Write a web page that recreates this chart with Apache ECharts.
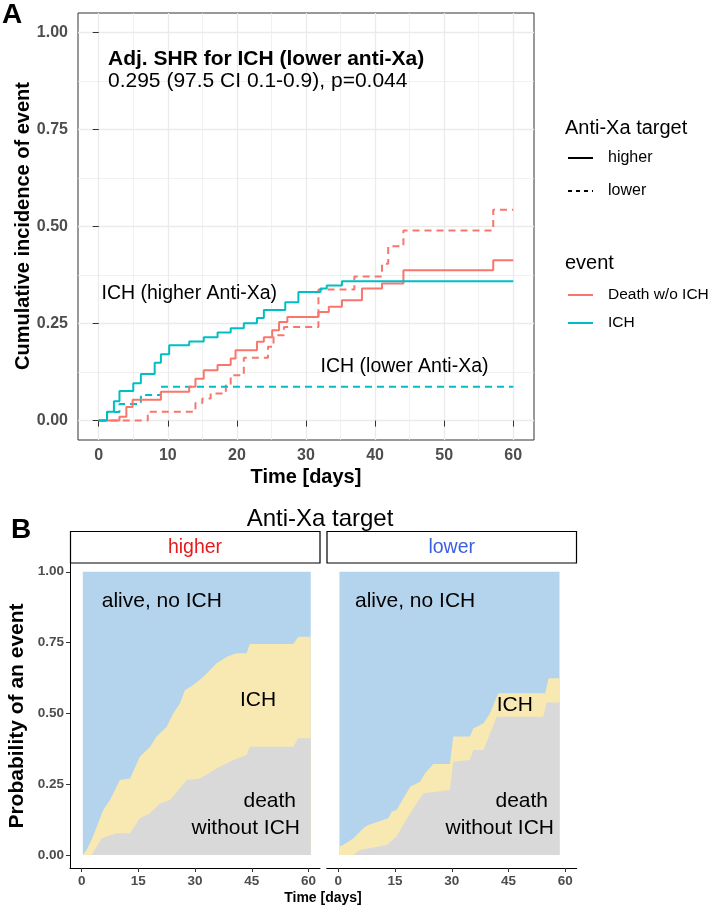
<!DOCTYPE html>
<html><head><meta charset="utf-8">
<script src="https://cdn.jsdelivr.net/npm/echarts@6/dist/echarts.min.js"></script>
<style>html,body{margin:0;padding:0;background:#fff}#c{width:708px;height:908px}</style>
</head><body><div id="c"></div>
<script>
// ---------- Panel A: cumulative incidence (step curves) ----------
const ichHigherT   = [0, 1.2, 2.2, 3, 5, 6.1, 8.1, 9, 10.2, 13.1, 15.2, 17.2, 19.1, 21, 22.9, 23.9, 27, 28.9, 32.1, 33, 35.2, 60];
const ichHigherV   = [0, 0.023, 0.05, 0.076, 0.096, 0.12, 0.149, 0.171, 0.194, 0.204, 0.215, 0.227, 0.238, 0.251, 0.264, 0.285, 0.305, 0.331, 0.34, 0.348, 0.359, 0.359];
const ichLowerT    = [0, 1.2, 3, 6.1, 9, 60];
const ichLowerV    = [0, 0.022, 0.043, 0.066, 0.087, 0.087];
const deathHigherT = [0, 3, 4, 4.9, 9, 13.1, 14, 15.2, 17.2, 19.1, 19.8, 22.9, 23.9, 25.1, 26.1, 27.3, 31.8, 33.3, 35.2, 38.1, 41, 44.1, 57.1, 60];
const deathHigherV = [0, 0.01, 0.035, 0.054, 0.074, 0.087, 0.108, 0.13, 0.143, 0.16, 0.181, 0.203, 0.215, 0.233, 0.254, 0.267, 0.28, 0.293, 0.31, 0.34, 0.353, 0.387, 0.413, 0.413];
const deathLowerT  = [0, 7.1, 14, 15, 16.2, 18.4, 19.1, 21, 24.5, 25.3, 26.8, 31.8, 37, 41, 41.9, 44.1, 57.1, 60];
const deathLowerV  = [0, 0.023, 0.045, 0.057, 0.07, 0.091, 0.117, 0.162, 0.19, 0.22, 0.241, 0.338, 0.371, 0.404, 0.449, 0.49, 0.543, 0.543];
const xTicksA = [0, 10, 20, 30, 40, 50, 60];
const xMinorA = [5, 15, 25, 35, 45, 55];
const yTicks  = [0, 0.25, 0.5, 0.75, 1];
const yMinorA = [0.125, 0.375, 0.625, 0.875];

// ---------- Panel B: stacked state probabilities (boundaries) ----------
const hiAliveT = [0.3, 60.6];
const hiAliveV = [1, 1];
const hiIchTopT = [0.3, 1.3, 2.6, 4, 5.7, 7.5, 10.1, 12.8, 15.4, 18.1, 19.8, 22.5, 24.2, 26, 27.3, 29.5, 32.2, 35.7, 38.4, 41, 43.6, 44.5, 56, 57.3, 60.6];
const hiIchTopV = [0, 0.018, 0.053, 0.1, 0.159, 0.194, 0.265, 0.27, 0.347, 0.382, 0.418, 0.453, 0.5, 0.535, 0.582, 0.6, 0.629, 0.677, 0.7, 0.712, 0.712, 0.745, 0.745, 0.771, 0.771];
const hiDeathT = [0.3, 2.6, 4, 5.3, 9.3, 12.8, 15.4, 18.1, 20.7, 23.4, 27.8, 31.3, 36.6, 40.1, 43.6, 44.5, 56, 57.3, 60.6];
const hiDeathV = [0, 0, 0.03, 0.059, 0.077, 0.077, 0.13, 0.147, 0.182, 0.194, 0.265, 0.27, 0.312, 0.335, 0.353, 0.382, 0.382, 0.412, 0.412];
const loAliveT = [0.3, 58.5];
const loAliveV = [1, 1];
const loIchTopT = [0.3, 1.3, 4, 6.6, 7.9, 13.2, 14.1, 15.4, 19, 21.6, 22.9, 25.1, 29.5, 30.4, 34.8, 35.7, 38.4, 40.1, 42.3, 54.7, 55.6, 58.5];
const loIchTopV = [0.03, 0.035, 0.059, 0.094, 0.106, 0.13, 0.153, 0.159, 0.241, 0.259, 0.288, 0.321, 0.321, 0.418, 0.418, 0.447, 0.465, 0.5, 0.571, 0.571, 0.624, 0.624];
const loDeathT = [0.3, 4, 5.7, 12.8, 15.4, 19, 22.5, 29.5, 30.4, 34.8, 35.7, 38.4, 41.9, 54.2, 55.1, 58.5];
const loDeathV = [0, 0, 0.018, 0.035, 0.065, 0.147, 0.218, 0.229, 0.329, 0.335, 0.371, 0.371, 0.488, 0.488, 0.538, 0.538];
const xTicksB = [0, 15, 30, 45, 60];

const FF = '"Liberation Sans", Arial, Helvetica, sans-serif';
const RED = '#F8766D', TEAL = '#00BFC4';
const BLUE = '#B3D4EC', YELLOW = '#F8E8B2', GRAY = '#D9D9D9';
const zip = (t, v) => t.map((x, i) => [x, v[i]]);

const chart = echarts.init(document.getElementById('c'), null, {renderer: 'canvas', width: 708, height: 908});

function stepSeries(t, v, color, dashed) {
  return {type: 'line', xAxisIndex: 0, yAxisIndex: 0, step: 'end', data: zip(t, v), symbol: 'none',
    lineStyle: {color: color, width: 2, type: dashed ? [7, 5] : 'solid'}, silent: true, animation: false, z: 5};
}
function areaSeries(idx, t, v, color, z) {
  return {type: 'line', xAxisIndex: idx, yAxisIndex: idx, data: zip(t, v), symbol: 'none',
    lineStyle: {width: 0, color: color}, areaStyle: {color: color, opacity: 1, origin: 'auto'},
    silent: true, animation: false, z: z};
}
const tickLbl = (sz) => ({color: '#4D4D4D', fontWeight: 'bold', fontSize: sz, fontFamily: FF});

const option = {
  backgroundColor: '#fff',
  animation: false,
  grid: [
    {left: 78, top: 13, width: 456, height: 427, show: true, borderColor: '#333', borderWidth: 1, backgroundColor: '#fff', containLabel: false},
    {left: 70, top: 563, width: 250, height: 305, containLabel: false},
    {left: 326.7, top: 563, width: 250, height: 305, containLabel: false}
  ],
  xAxis: [
    {gridIndex: 0, type: 'value', min: -3, max: 63, axisLine: {show: false},
     axisTick: {show: true, customValues: xTicksA, length: 6, lineStyle: {color: '#333'}},
     axisLabel: Object.assign({customValues: xTicksA, margin: 8}, tickLbl(16)),
     splitLine: {show: true, lineStyle: {color: '#EBEBEB', width: 1.3}}},
    {gridIndex: 1, type: 'value', min: -3.08, max: 63.05,
     axisLine: {show: true, onZero: false, lineStyle: {color: '#000', width: 1}},
     axisTick: {show: true, customValues: xTicksB, length: 4, lineStyle: {color: '#333'}},
     axisLabel: Object.assign({customValues: xTicksB, margin: 6}, tickLbl(13.5)),
     splitLine: {show: false}},
    {gridIndex: 2, type: 'value', min: -3.08, max: 63.05,
     axisLine: {show: true, onZero: false, lineStyle: {color: '#000', width: 1}},
     axisTick: {show: true, customValues: xTicksB, length: 4, lineStyle: {color: '#333'}},
     axisLabel: Object.assign({customValues: xTicksB, margin: 6}, tickLbl(13.5)),
     splitLine: {show: false}},
    {gridIndex: 0, type: 'value', min: -3, max: 63, axisLine: {show: false},
     axisTick: {show: false, customValues: xMinorA}, axisLabel: {show: false, customValues: xMinorA},
     splitLine: {show: true, lineStyle: {color: '#EBEBEB', width: 0.7}}}
  ],
  yAxis: [
    {gridIndex: 0, type: 'value', min: -0.05, max: 1.05, axisLine: {show: false},
     axisTick: {show: true, customValues: yTicks, length: 6, lineStyle: {color: '#333'}},
     axisLabel: Object.assign({customValues: yTicks, margin: 10, formatter: v => v.toFixed(2)}, tickLbl(16)),
     splitLine: {show: true, lineStyle: {color: '#EBEBEB', width: 1.3}}},
    {gridIndex: 1, type: 'value', min: -0.046, max: 1.031,
     axisLine: {show: true, onZero: false, lineStyle: {color: '#000', width: 1}},
     axisTick: {show: true, customValues: yTicks, length: 4, lineStyle: {color: '#333'}},
     axisLabel: Object.assign({customValues: yTicks, margin: 6, formatter: v => v.toFixed(2)}, tickLbl(13.5)),
     splitLine: {show: false}},
    {gridIndex: 2, type: 'value', min: -0.046, max: 1.031,
     axisLine: {show: false}, axisTick: {show: false, customValues: yTicks},
     axisLabel: {show: false, customValues: yTicks}, splitLine: {show: false}},
    {gridIndex: 0, type: 'value', min: -0.05, max: 1.05, axisLine: {show: false},
     axisTick: {show: false, customValues: yMinorA}, axisLabel: {show: false, customValues: yMinorA},
     splitLine: {show: true, lineStyle: {color: '#EBEBEB', width: 0.7}}}
  ],
  series: [
    stepSeries(deathLowerT, deathLowerV, RED, true),
    stepSeries(ichLowerT, ichLowerV, TEAL, true),
    stepSeries(deathHigherT, deathHigherV, RED, false),
    stepSeries(ichHigherT, ichHigherV, TEAL, false),
    areaSeries(1, hiAliveT, hiAliveV, BLUE, 2),
    areaSeries(1, hiIchTopT, hiIchTopV, YELLOW, 3),
    areaSeries(1, hiDeathT, hiDeathV, GRAY, 4),
    areaSeries(2, loAliveT, loAliveV, BLUE, 2),
    areaSeries(2, loIchTopT, loIchTopV, YELLOW, 3),
    areaSeries(2, loDeathT, loDeathV, GRAY, 4)
  ]
};

function txt(x, y, text, size, opts) {
  opts = opts || {};
  return {type: 'text', x: x, y: y, rotation: opts.rot || 0, z: 100,
    style: {text: text, fontSize: size, fontFamily: FF, fontWeight: opts.bold ? 'bold' : 'normal',
      fill: opts.fill || '#000', align: opts.align || 'left', verticalAlign: opts.va || 'middle'}};
}
function keyLine(x1, x2, y, color, dashed) {
  return {type: 'line', z: 100, shape: {x1: x1, y1: y, x2: x2, y2: y},
    style: {stroke: color, lineWidth: 2, lineDash: dashed ? [4, 4] : null}};
}

option.graphic = [
  txt(12, 15, 'A', 28, {bold: true, align: 'center'}),
  txt(108, 59, 'Adj. SHR for ICH (lower anti-Xa)', 21, {bold: true}),
  txt(108, 81, '0.295 (97.5 CI 0.1-0.9), p=0.044', 21),
  txt(101.5, 294, 'ICH (higher Anti-Xa)', 19.5),
  txt(488.5, 367, 'ICH (lower Anti-Xa)', 19.5, {align: 'right'}),
  txt(23, 226, 'Cumulative incidence of event', 20, {bold: true, align: 'center', rot: Math.PI / 2}),
  txt(306, 477, 'Time [days]', 20, {bold: true, align: 'center'}),
  // legend
  txt(565, 128, 'Anti-Xa target', 20),
  keyLine(568, 593, 158, '#000', false),
  txt(608, 158, 'higher', 16),
  keyLine(568, 593, 191, '#000', true),
  txt(608, 191, 'lower', 16),
  txt(565, 263, 'event', 20),
  keyLine(568, 593, 295, RED, false),
  txt(608, 295, 'Death w/o ICH', 15.5),
  keyLine(568, 593, 323, TEAL, false),
  txt(608, 323, 'ICH', 15.5),
  // panel B
  txt(21, 530, 'B', 28, {bold: true, align: 'center'}),
  txt(320, 519, 'Anti-Xa target', 24, {align: 'center'}),
  {type: 'rect', z: 100, shape: {x: 70.5, y: 531.5, width: 249.5, height: 31.5}, style: {fill: '#fff', stroke: '#000', lineWidth: 1.2}},
  {type: 'rect', z: 100, shape: {x: 327, y: 531.5, width: 249.5, height: 31.5}, style: {fill: '#fff', stroke: '#000', lineWidth: 1.2}},
  txt(195, 548, 'higher', 19.5, {align: 'center', fill: '#E41A1C'}),
  txt(451.7, 548, 'lower', 19.5, {align: 'center', fill: '#3A5FE0'}),
  txt(101.7, 601, 'alive, no ICH', 21),
  txt(240, 700, 'ICH', 21),
  txt(296, 801, 'death', 21, {align: 'right'}),
  txt(300, 828, 'without ICH', 21, {align: 'right'}),
  txt(355, 601, 'alive, no ICH', 21),
  txt(496.7, 705, 'ICH', 21),
  txt(548, 801, 'death', 21, {align: 'right'}),
  txt(554, 828, 'without ICH', 21, {align: 'right'}),
  txt(17, 716, 'Probability of an event', 21, {bold: true, align: 'center', rot: Math.PI / 2}),
  txt(323, 898, 'Time [days]', 14, {bold: true, align: 'center'})
];

chart.setOption(option);
</script></body></html>
